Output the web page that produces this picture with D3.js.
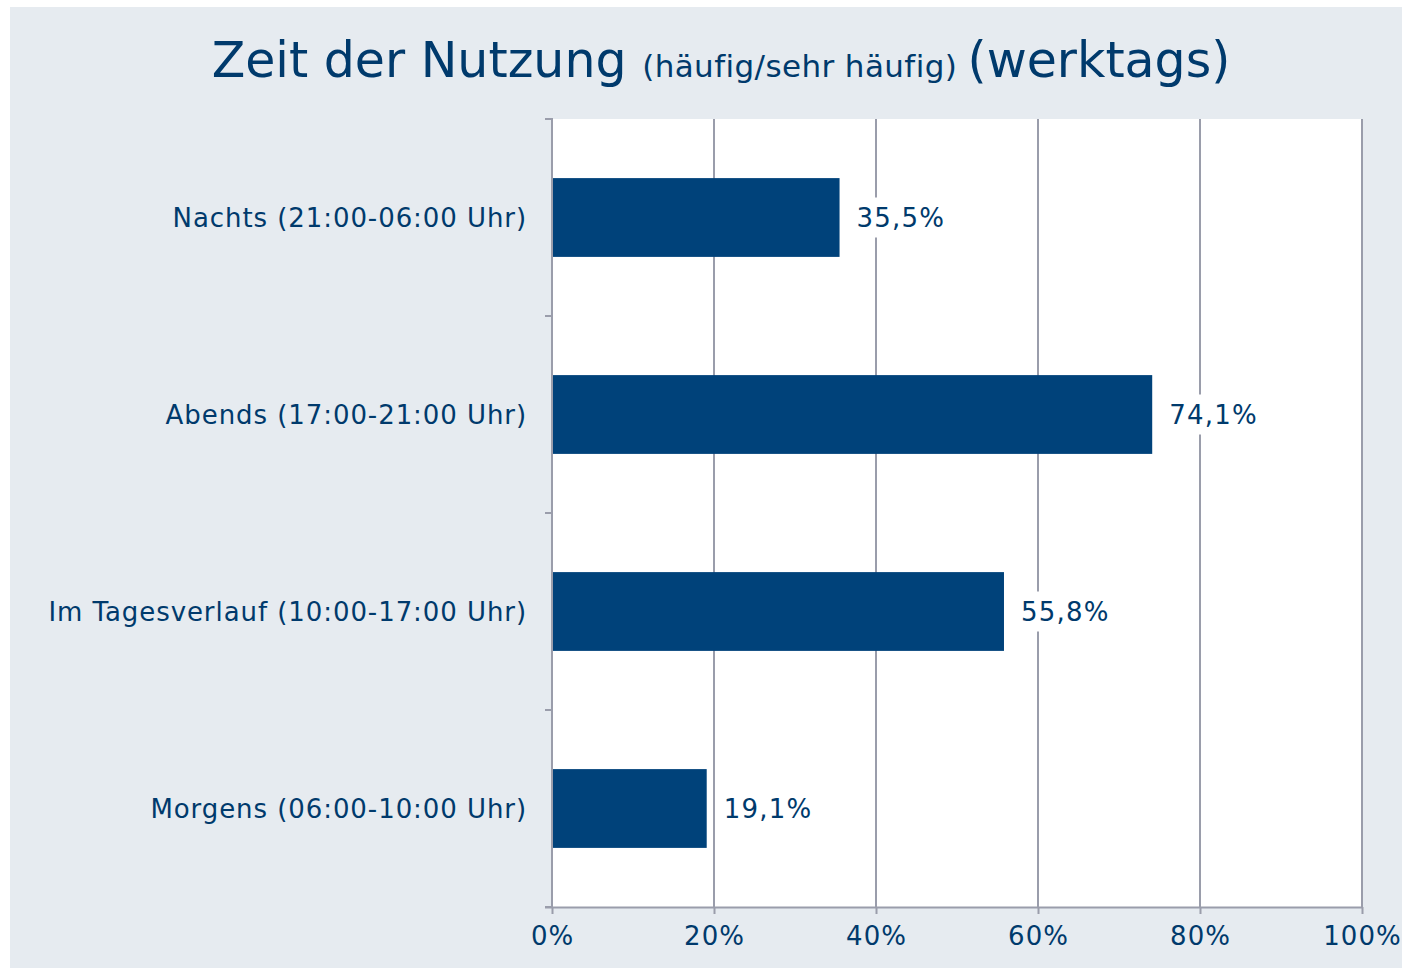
<!DOCTYPE html>
<html>
<head>
<meta charset="utf-8">
<script src="https://cdn.jsdelivr.net/npm/d3@7.9.0/dist/d3.min.js"></script>
<style>
  body { margin: 0; background: #fff; }
  svg { display: block; font-family: "DejaVu Sans", Verdana, sans-serif; }
</style>
</head>
<body>
<svg id="chart" width="1402" height="968"></svg>
<script>
// data
const categories = [
    'Nachts (21:00-06:00 Uhr)',
    'Abends (17:00-21:00 Uhr)',
    'Im Tagesverlauf (10:00-17:00 Uhr)',
    'Morgens (06:00-10:00 Uhr)'
];
const values = [35.5, 74.1, 55.8, 19.1];
const xTicks = [0, 20, 40, 60, 80, 100];

const textColor = '#003a6c';
const barColor = '#00427a';
const gridColor = '#9a9dab';

const svg = d3.select('#chart');

// background panel
svg.append('rect')
    .attr('x', 10).attr('y', 7)
    .attr('width', 1392).attr('height', 961)
    .attr('fill', '#e6ebf0');

const plot = { left: 552, right: 1362, top: 119, bottom: 907 };

svg.append('rect')
    .attr('x', plot.left).attr('y', plot.top)
    .attr('width', plot.right - plot.left).attr('height', plot.bottom - plot.top)
    .attr('fill', '#fff');

const x = d3.scaleLinear().domain([0, 100]).range([plot.left, plot.right]);
const y = d3.scaleBand().domain(categories).range([plot.top, plot.bottom]).paddingInner(0.6).paddingOuter(0.3);

// gridlines
svg.append('g').selectAll('line')
    .data(xTicks.slice(1))
    .join('line')
    .attr('x1', d => x(d)).attr('x2', d => x(d))
    .attr('y1', plot.top).attr('y2', plot.bottom)
    .attr('stroke', gridColor).attr('stroke-width', 2);

// bars
svg.append('g').selectAll('rect')
    .data(values)
    .join('rect')
    .attr('x', x(0))
    .attr('y', (d, i) => y(categories[i]))
    .attr('width', d => x(d) - x(0))
    .attr('height', y.bandwidth())
    .attr('fill', barColor);

// value labels with white box behind
const fmt = v => v.toFixed(1).replace('.', ',') + '%';
const labels = svg.append('g').selectAll('g')
    .data(values)
    .join('g')
    .attr('transform', (d, i) => `translate(${x(d) + 17},${y(categories[i]) + y.bandwidth() / 2})`);
labels.append('rect')
    .attr('x', -6).attr('y', -20)
    .attr('width', 100).attr('height', 40)
    .attr('fill', '#fff');
labels.append('text')
    .attr('dy', '0.35em')
    .attr('font-size', 26)
    .attr('letter-spacing', 1.2)
    .attr('fill', textColor)
    .text(d => fmt(d));
labels.each(function () {
    const g = d3.select(this);
    const w = g.select('text').node().getComputedTextLength();
    g.select('rect').attr('width', w + 12);
});

// x axis
const xAxis = d3.axisBottom(x)
    .tickValues(xTicks)
    .tickFormat(d => d + '%')
    .tickSize(7)
    .tickSizeOuter(0);
const gx = svg.append('g')
    .attr('transform', `translate(0,${plot.bottom})`)
    .call(xAxis);
gx.select('.domain').attr('stroke', gridColor).attr('stroke-width', 2)
    .attr('d', `M${plot.left - 7},0.5H${plot.right}`);
gx.selectAll('.tick line').attr('stroke', gridColor).attr('stroke-width', 2);
gx.selectAll('.tick text')
    .attr('fill', textColor)
    .attr('font-size', 26)
    .attr('letter-spacing', 1)
    .attr('font-family', '"DejaVu Sans", Verdana, sans-serif')
    .attr('y', 20)
    .attr('dy', '0.71em');

// y axis
const yAxis = svg.append('g');
yAxis.append('line')
    .attr('x1', plot.left).attr('x2', plot.left)
    .attr('y1', plot.top - 1).attr('y2', plot.bottom)
    .attr('stroke', gridColor).attr('stroke-width', 2);
const bandEdges = categories.map(c => y(c) - y.step() * y.paddingInner() / 2).concat([plot.bottom]);
yAxis.selectAll('line.tick')
    .data(bandEdges)
    .join('line')
    .attr('class', 'tick')
    .attr('x1', plot.left - 7).attr('x2', plot.left)
    .attr('y1', d => d).attr('y2', d => d)
    .attr('stroke', gridColor).attr('stroke-width', 2);
yAxis.selectAll('text')
    .data(categories)
    .join('text')
    .attr('x', plot.left - 25)
    .attr('y', d => y(d) + y.bandwidth() / 2)
    .attr('dy', '0.35em')
    .attr('text-anchor', 'end')
    .attr('font-size', 26)
    .attr('letter-spacing', 0.93)
    .attr('fill', textColor)
    .text(d => d);

// title
const title = svg.append('text')
    .attr('x', 721)
    .attr('y', 77)
    .attr('text-anchor', 'middle')
    .attr('fill', textColor);
title.append('tspan').attr('font-size', 49).text('Zeit der Nutzung ');
title.append('tspan').attr('font-size', 31).attr('letter-spacing', 0.4).text('(häufig/sehr häufig) ');
title.append('tspan').attr('font-size', 49).text('(werktags)');
</script>
</body>
</html>
